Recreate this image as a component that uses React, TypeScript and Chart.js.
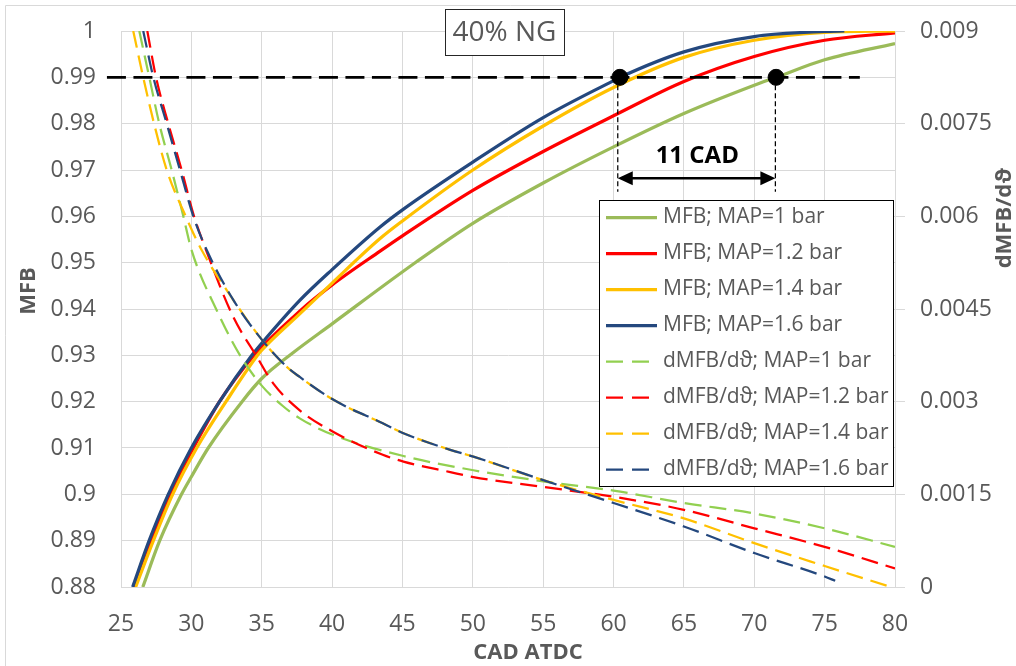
import React, { useEffect, useRef } from "react";
import { Chart, registerables } from "chart.js";

Chart.register(...registerables);

const FONT = "'Open Sans', 'DejaVu Sans', sans-serif";
const TEXT = "#595959";
const GRID = "#d9d9d9";

// ---- axis ticks ----
const xTickValues = [25, 30, 35, 40, 45, 50, 55, 60, 65, 70, 75, 80];
const mfbTickValues = [0.88, 0.89, 0.9, 0.91, 0.92, 0.93, 0.94, 0.95, 0.96, 0.97, 0.98, 0.99, 1];
const mfbTickLabels = ["0.88", "0.89", "0.9", "0.91", "0.92", "0.93", "0.94", "0.95", "0.96", "0.97", "0.98", "0.99", "1"];
const dmfbTickValues = [0, 0.0015, 0.003, 0.0045, 0.006, 0.0075, 0.009];
const dmfbTickLabels = ["0", "0.0015", "0.003", "0.0045", "0.006", "0.0075", "0.009"];

// ---- MFB (left axis) ----
const xMfb10 = [26.55, 27.75, 29.3, 30.0, 31.2, 33.6, 35.0, 37.2, 40.0, 46.0, 50.0, 55.0, 60.0, 65.0, 70.0, 71.55, 75.0, 80.0];
const yMfb10 = [0.88, 0.89, 0.9, 0.9038, 0.91, 0.92, 0.925, 0.9305, 0.9368, 0.9502, 0.9585, 0.9672, 0.975, 0.9822, 0.9883, 0.99, 0.9938, 0.9973];

const xMfb12 = [25.95, 27.11, 28.48, 30.14, 32.0, 34.45, 35.0, 37.72, 40.0, 43.41, 45.0, 50.0, 55.0, 60.0, 65.0, 70.0, 75.0, 80.0];
const yMfb12 = [0.88, 0.89, 0.9, 0.91, 0.92, 0.93, 0.9318, 0.9396, 0.9452, 0.9525, 0.9558, 0.9656, 0.974, 0.9817, 0.9891, 0.9945, 0.998, 0.9996];

const xMfb14 = [26.04, 27.3, 28.67, 30.38, 32.46, 34.7, 35.0, 37.72, 40.0, 43.41, 45.0, 50.0, 55.0, 60.0, 65.0, 70.0, 75.0, 80.0];
const yMfb14 = [0.88, 0.89, 0.9, 0.91, 0.92, 0.93, 0.9311, 0.939, 0.9456, 0.9552, 0.959, 0.97, 0.9795, 0.9878, 0.9943, 0.998, 0.9997, 1.0];

const xMfb16 = [25.83, 27.0, 28.36, 30.0, 32.0, 34.3, 35.0, 37.72, 40.0, 43.41, 45.0, 50.0, 55.0, 60.0, 60.45, 65.0, 70.0, 75.0, 76.4];
const yMfb16 = [0.88, 0.89, 0.9, 0.91, 0.92, 0.93, 0.9326, 0.9419, 0.9485, 0.9577, 0.9614, 0.9717, 0.9813, 0.9893, 0.99, 0.9955, 0.9988, 0.9999, 1.0];

// ---- dMFB/dθ (right axis) ----
const xD10 = [26.3, 27.01, 27.72, 28.6, 29.43, 30.02, 31.8, 33.46, 35.0, 36.5, 37.7, 40.1, 45.07, 50.04, 55.0, 60.0, 65.0, 70.0, 75.0, 80.0];
const yD10 = [0.009, 0.00825, 0.0075, 0.00675, 0.006, 0.00545, 0.00448, 0.00375, 0.00326, 0.00293, 0.00273, 0.00246, 0.00212, 0.00189, 0.00171, 0.00156, 0.00136, 0.00119, 0.00095, 0.00065];

const xD12 = [26.87, 27.49, 28.36, 29.31, 30.19, 31.05, 32.98, 34.65, 35.8, 37.7, 40.1, 43.6, 45.07, 48.4, 50.04, 55.0, 60.0, 65.0, 70.0, 75.0, 80.0];
const yD12 = [0.009, 0.00825, 0.0075, 0.00675, 0.006, 0.00545, 0.00437, 0.00373, 0.0033, 0.00286, 0.00251, 0.00214, 0.00203, 0.00186, 0.00178, 0.00162, 0.00146, 0.00125, 0.00095, 0.00065, 0.0003];

const xD14 = [25.87, 26.58, 27.35, 28.25, 29.6, 30.74, 33.0, 35.02, 36.8, 37.7, 40.1, 43.6, 45.07, 48.4, 50.04, 55.0, 60.0, 65.0, 70.0, 75.0, 79.7];
const yD14 = [0.009, 0.00825, 0.0075, 0.00675, 0.006, 0.00545, 0.00464, 0.004, 0.00356, 0.0034, 0.00303, 0.00265, 0.00249, 0.00222, 0.00211, 0.00173, 0.00141, 0.00111, 0.00071, 0.00034, 0.0];

const xD16 = [26.58, 27.3, 28.25, 29.19, 30.14, 31.1, 33.0, 35.02, 36.8, 37.7, 40.1, 43.6, 45.07, 48.4, 50.04, 55.0, 60.0, 65.0, 70.0, 75.0, 75.75];
const yD16 = [0.009, 0.00825, 0.0075, 0.00675, 0.006, 0.00545, 0.00464, 0.004, 0.00356, 0.0034, 0.00303, 0.00265, 0.00249, 0.00222, 0.00211, 0.00173, 0.00136, 0.00098, 0.00055, 0.00017, 0.0001];

// ---- annotations ----
const refLevel = 0.99;
const refLineX = [24.0, 77.5];
const markX = [60.45, 71.55];
const dropX = [60.3, 71.5];
const dropBottom = 0.9653;
const arrowY = 0.9682;
const gapLabel = "11 CAD";
const gapLabelPos = [65.95, 0.973];
const panelTitle = "40% NG";

const series = [
  { label: "MFB; MAP=1 bar", xs: xMfb10, ys: yMfb10, color: "#9BBB59", dashed: false },
  { label: "MFB; MAP=1.2 bar", xs: xMfb12, ys: yMfb12, color: "#FF0000", dashed: false },
  { label: "MFB; MAP=1.4 bar", xs: xMfb14, ys: yMfb14, color: "#FFC000", dashed: false },
  { label: "MFB; MAP=1.6 bar", xs: xMfb16, ys: yMfb16, color: "#24487E", dashed: false },
  { label: "dMFB/d\u03D1; MAP=1 bar", xs: xD10, ys: yD10, color: "#92D050", dashed: true },
  { label: "dMFB/d\u03D1; MAP=1.2 bar", xs: xD12, ys: yD12, color: "#FF0000", dashed: true },
  { label: "dMFB/d\u03D1; MAP=1.4 bar", xs: xD14, ys: yD14, color: "#FFC000", dashed: true },
  { label: "dMFB/d\u03D1; MAP=1.6 bar", xs: xD16, ys: yD16, color: "#24487E", dashed: true },
];

const zip = (xs: number[], ys: number[]) => xs.map((x, i) => ({ x, y: ys[i] }));

const decorPlugin = {
  id: "decor",
  beforeDraw(chart: any) {
    const ctx = chart.ctx;
    ctx.save();
    ctx.strokeStyle = GRID;
    ctx.lineWidth = 1;
    ctx.beginPath();
    ctx.moveTo(5.5, 666);
    ctx.lineTo(5.5, 5.5);
    ctx.lineTo(1016, 5.5);
    ctx.stroke();
    ctx.restore();
  },
  afterDraw(chart: any) {
    const ctx = chart.ctx;
    const xs = chart.scales.x;
    const ys = chart.scales.y;
    ctx.save();

    // arrow between the two marks
    const ax1 = xs.getPixelForValue(dropX[0]);
    const ax2 = xs.getPixelForValue(dropX[1]);
    const ay = ys.getPixelForValue(arrowY);
    const head = 15;
    const half = 7;
    ctx.strokeStyle = "#000";
    ctx.fillStyle = "#000";
    ctx.lineWidth = 2.5;
    ctx.beginPath();
    ctx.moveTo(ax1 + head - 2, ay);
    ctx.lineTo(ax2 - head + 2, ay);
    ctx.stroke();
    ctx.beginPath();
    ctx.moveTo(ax1, ay);
    ctx.lineTo(ax1 + head, ay - half);
    ctx.lineTo(ax1 + head, ay + half);
    ctx.closePath();
    ctx.fill();
    ctx.beginPath();
    ctx.moveTo(ax2, ay);
    ctx.lineTo(ax2 - head, ay - half);
    ctx.lineTo(ax2 - head, ay + half);
    ctx.closePath();
    ctx.fill();

    // gap label
    ctx.font = `bold 24px ${FONT}`;
    ctx.textAlign = "center";
    ctx.textBaseline = "middle";
    ctx.fillStyle = "#000";
    ctx.fillText(gapLabel, xs.getPixelForValue(gapLabelPos[0]), ys.getPixelForValue(gapLabelPos[1]));

    // panel title box
    ctx.fillStyle = "#fff";
    ctx.fillRect(445.5, 9.5, 119, 46);
    ctx.strokeStyle = "#262626";
    ctx.lineWidth = 1;
    ctx.strokeRect(445.5, 9.5, 119, 46);
    ctx.fillStyle = TEXT;
    ctx.font = `28px ${FONT}`;
    ctx.fillText(panelTitle, 504.5, 33);

    // legend box
    const lx = 599.5, ly = 200.5, lw = 294, lh = 286;
    ctx.fillStyle = "#fff";
    ctx.fillRect(lx, ly, lw, lh);
    ctx.strokeStyle = "#000";
    ctx.lineWidth = 1;
    ctx.strokeRect(lx, ly, lw, lh);
    ctx.font = `21px ${FONT}`;
    ctx.textAlign = "left";
    series.forEach((s, i) => {
      const cy = 217.5 + i * 36;
      ctx.strokeStyle = s.color;
      ctx.lineWidth = s.dashed ? 2.25 : 3.25;
      ctx.setLineDash(s.dashed ? [17, 9] : []);
      ctx.beginPath();
      ctx.moveTo(606, cy);
      ctx.lineTo(s.dashed ? 650 : 657, cy);
      ctx.stroke();
      ctx.setLineDash([]);
      ctx.fillStyle = TEXT;
      ctx.fillText(s.label, 663, cy);
    });

    // axis titles
    ctx.fillStyle = TEXT;
    ctx.font = `bold 22px ${FONT}`;
    ctx.textAlign = "center";
    ctx.textBaseline = "middle";
    ctx.fillText("CAD ATDC", 528, 653);
    ctx.save();
    ctx.translate(28.5, 291);
    ctx.rotate(-Math.PI / 2);
    ctx.fillText("MFB", 0, 0);
    ctx.restore();
    ctx.save();
    ctx.translate(1005, 218);
    ctx.rotate(-Math.PI / 2);
    ctx.fillText("dMFB/d\u03D1", 0, 0);
    ctx.restore();

    ctx.restore();
  },
};

export default function App() {
  const ref = useRef<HTMLCanvasElement>(null);
  useEffect(() => {
    document.body.style.margin = "0";
    const canvas = ref.current;
    if (!canvas) return;

    const curveSets = series.map((s, i) => ({
      label: s.label,
      data: zip(s.xs, s.ys),
      yAxisID: s.dashed ? "y1" : "y",
      borderColor: s.color,
      backgroundColor: s.color,
      borderWidth: s.dashed ? 2.25 : 3.25,
      borderDash: s.dashed ? [17, 8] : [],
      pointRadius: 0,
      fill: false,
      cubicInterpolationMode: "monotone",
      order: 100 - i,
    }));

    const annotationSets = [
      {
        label: "marks",
        data: markX.map((x) => ({ x, y: refLevel })),
        yAxisID: "y",
        showLine: false,
        pointRadius: 8,
        pointBackgroundColor: "#000",
        pointBorderColor: "#000",
        borderColor: "#000",
        order: 0,
        clip: false,
      },
      {
        label: "ref",
        data: refLineX.map((x) => ({ x, y: refLevel })),
        yAxisID: "y",
        borderColor: "#000",
        borderWidth: 2.75,
        borderDash: [19, 7.5],
        pointRadius: 0,
        tension: 0,
        order: 1,
        clip: false,
      },
      ...dropX.map((x, k) => ({
        label: "drop" + k,
        data: [
          { x, y: refLevel },
          { x, y: dropBottom },
        ],
        yAxisID: "y",
        borderColor: "#000",
        borderWidth: 1.25,
        borderDash: [5, 3],
        pointRadius: 0,
        tension: 0,
        order: 2,
      })),
    ];

    const fitVertical = (s: any) => {
      s.width = 121;
      s.paddingTop = 0;
      s.paddingBottom = 0;
    };

    const chart = new Chart(canvas, {
      type: "line",
      data: { datasets: [...annotationSets, ...curveSets] as any },
      options: {
        responsive: false,
        animation: false,
        devicePixelRatio: 1,
        layout: { padding: { top: 31, left: 0, right: 0, bottom: 0 } },
        plugins: { legend: { display: false }, tooltip: { enabled: false } },
        scales: {
          x: {
            type: "linear",
            min: 25,
            max: 80,
            afterBuildTicks: (s: any) => {
              s.ticks = xTickValues.map((v) => ({ value: v }));
            },
            ticks: {
              font: { family: FONT, size: 23 },
              color: TEXT,
              padding: 24,
              maxRotation: 0,
              autoSkip: false,
              callback: (v: any) => String(v),
            },
            grid: { color: GRID, drawTicks: false, lineWidth: 1 },
            border: { color: GRID },
            afterFit: (s: any) => {
              s.height = 79;
              s.paddingLeft = 0;
              s.paddingRight = 0;
            },
          },
          y: {
            type: "linear",
            position: "left",
            min: 0.88,
            max: 1,
            afterBuildTicks: (s: any) => {
              s.ticks = mfbTickValues.map((v) => ({ value: v }));
            },
            ticks: {
              font: { family: FONT, size: 23 },
              color: TEXT,
              padding: 25,
              autoSkip: false,
              callback: (_v: any, i: number) => mfbTickLabels[i],
            },
            grid: { color: GRID, drawTicks: false, lineWidth: 1 },
            border: { color: GRID },
            afterFit: fitVertical,
          },
          y1: {
            type: "linear",
            position: "right",
            min: 0,
            max: 0.009,
            afterBuildTicks: (s: any) => {
              s.ticks = dmfbTickValues.map((v) => ({ value: v }));
            },
            ticks: {
              font: { family: FONT, size: 23 },
              color: TEXT,
              padding: 15,
              autoSkip: false,
              callback: (_v: any, i: number) => dmfbTickLabels[i],
            },
            grid: { color: GRID, drawOnChartArea: false, drawTicks: true, tickLength: 10 },
            border: { color: GRID },
            afterFit: fitVertical,
          },
        },
      } as any,
      plugins: [decorPlugin],
    });
    return () => chart.destroy();
  }, []);

  return (
    <div style={{ width: 1016, height: 666, background: "#fff" }}>
      <canvas ref={ref} width={1016} height={666} style={{ display: "block" }} />
    </div>
  );
}
